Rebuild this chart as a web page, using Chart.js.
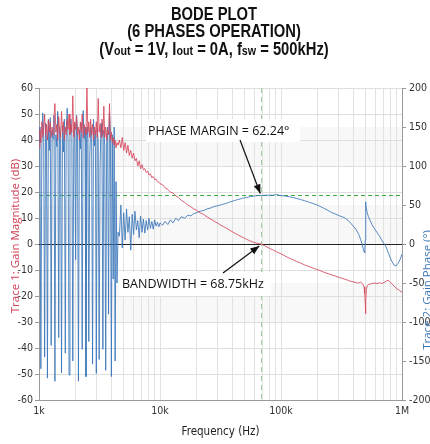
<!DOCTYPE html>
<html><head><meta charset="utf-8">
<script src="https://cdn.jsdelivr.net/npm/chart.js@4.4.1/dist/chart.umd.min.js"></script>
<style>html,body{margin:0;padding:0;background:#fff}#wrap{width:430px;height:444px}</style>
</head><body><div id="wrap"><canvas id="c" width="430" height="444"></canvas></div>
<script>
// ---- DATA ----
const freqA = [1000,1018,1036,1055,1074,1093,1113,1133,1153,1174,
  1195,1217,1239,1261,1284,1307,1330,1354,1379,1404,
  1429,1455,1481,1508,1535,1563,1591,1620,1649,1679,
  1709,1740,1771,1803,1836,1869,1903,1937,1972,2008,
  2044,2081,2118,2157,2196,2235,2276,2317,2359,2401,
  2445,2489,2534,2580,2626,2673,2722,2771,2821,2872,
  2924,2976,3030,3085,3140,3197,3255,3314,3373,3434,
  3496,3559,3624,3689,3756,3823,3892,3963,4034,4107,
  4181,4257,4333,4412,4500];
const gainA = [37,44,39,47,41,45,50,42,46,40,
  48,43,47,41,45,42,49,54,43,46,
  40,49,44,41,51,43,47,40,45,42,
  48,44,50,42,46,43,57,41,47,44,
  49,42,45,40,47,43,50,41,46,44,
  42,60,43,47,41,48,42,46,40,45,
  42,47,41,56,43,46,41,48,42,53,
  41,45,40,44,42,54,40,43,39,41,
  38,40,37,39,38];
const phaseA = [150,130,-160,125,168,140,-145,155,135,-172,
  158,120,162,-130,145,135,165,-176,140,125,
  170,-120,150,135,-165,152,118,160,-140,145,
  174,130,-168,142,160,138,-150,128,155,-20,
  165,140,-176,146,122,155,-135,171,135,150,
  -170,135,150,-125,112,150,141,-154,160,126,
  145,-166,148,130,-148,100,155,138,-135,146,
  125,-162,130,150,-90,168,140,-170,140,-45,
  150,-150,80,-50,15];
const freqB = [4620,4750,4880,5010,5150,5290,5430,5580,5730,5890,
  6050,6210,6380,6550,6730,6910,7100,7290,7490,7690,
  7900,8110,8330,8560,8790,9030,9270,9520,9780,10000];
const gainB = [40,37,41,36,39,35,38,34,36,33,
  35,32,33,30,32,29,30.5,28.5,29,27.5,
  28,26.5,27,25.5,26,24.8,25,24,23.8,23.2];
const phaseB = [10,50,-5,40,5,45,15,35,-8,38,
  12,42,18,30,8,36,15,32,14,30,
  18,33,20,29,19,31,23,28,22,27];
const freqC = [10500,11000,11600,12200,12800,13500,14200,15000,16000,17000,
  18000,19000,20000,21500,23000,24500,26000,28000,30000,32500,
  35000,38000,41000,44000,48000,52000,56000,60000,64000,68750,
  74000,80000,86000,92000,98000,104000,110000,118000,126000,135000,
  145000,156000,168000,180000,195000,210000,225000,240000,260000,280000,
  300000,320000,340000,360000,380000,400000,420000,440000,455000,468000,
  478000,486000,492000,497000,500000,503000,508000,516000,528000,545000,
  565000,590000,620000,650000,680000,710000,740000,770000,800000,830000,
  860000,890000,920000,950000,975000,1000000];
const gainC = [22.8,21.6,21.0,19.9,19.6,18.5,17.9,16.8,16.0,15.0,
  14.3,13.5,13.0,12.0,11.3,10.4,9.7,8.8,8.0,7.0,
  6.2,5.2,4.3,3.5,2.6,1.8,1.1,0.6,0.2,0.0,
  -0.8,-1.6,-2.3,-3.0,-3.6,-4.2,-4.8,-5.5,-6.1,-6.7,
  -7.3,-8.0,-8.6,-9.1,-9.7,-10.2,-10.8,-11.3,-11.8,-12.3,
  -12.8,-13.2,-13.6,-14.0,-14.4,-14.6,-14.9,-15.0,-14.6,-15.3,
  -15.6,-16.5,-19.0,-23.0,-26.8,-22.0,-17.5,-16.0,-15.6,-15.4,
  -15.2,-15.0,-15.3,-14.9,-15.2,-14.8,-14.3,-13.9,-14.8,-15.4,
  -16.2,-16.9,-17.4,-17.8,-18.2,-18.5];
const phaseC = [24,29,25,31,27,33,30,35,33,37,
  36,39,40,42,43,45,46,48,49,50.5,
  52,54,55.5,57,58.5,59.8,60.8,61.5,62.0,62.24,
  62.4,62.6,62.5,63.5,62.2,61.8,61.3,60.5,59.6,58.3,
  57,55.6,54,52.4,50.5,48.2,46,43.8,40.6,38.5,
  36.5,35,33,30,26,22,18,12,6,0,
  -6,-10,-11,5,54,50,45,40,35,30,
  25,20,15,10.5,5,0.5,-4,-11,-18,-23,
  -27,-28,-26,-22,-18,-13];

const xGridValues = [1000,2000,3000,4000,5000,6000,7000,8000,9000,
  10000,20000,30000,40000,50000,60000,70000,80000,90000,
  100000,200000,300000,400000,500000,600000,700000,800000,900000,1000000];
const xLabelValues = [1000,10000,100000,1000000];
const xLabelTexts = ['1k','10k','100k','1M'];
const bandRanges = [[100,150],[0,50],[-100,-50]];
const crossoverHz = 68750;
const phaseMarginDeg = 62.24;
const titleLine1 = 'BODE PLOT';
const titleLine2 = '(6 PHASES OPERATION)';
const titleLine3 = [['(V',0],['out',1],[' = 1V, I',0],['out',1],[' = 0A, f',0],['sw',1],[' = 500kHz)',0]];
const pmLabel = 'PHASE MARGIN = 62.24°';
const bwLabel = 'BANDWIDTH = 68.75kHz';
const yLeftTitle = 'Trace 1: Gain Magnitude (dB)';
const yRightTitle = 'Trace 2: Gain Phase (°)';
const xTitle = 'Frequency (Hz)';

// ---- BUILD ----
const freq = freqA.concat(freqB, freqC);
const gain = gainA.concat(gainB, gainC);
const phase = phaseA.concat(phaseB, phaseC);

const NARROW = '"DejaVu Sans Condensed", "Liberation Sans", sans-serif';
const RED = 'rgba(214,70,90,0.85)';
const BLUE = 'rgba(58,118,186,0.85)';

function arrow(ctx, x1, y1, x2, y2) {
  ctx.save();
  ctx.strokeStyle = '#111'; ctx.fillStyle = '#111'; ctx.lineWidth = 1.2;
  ctx.beginPath(); ctx.moveTo(x1, y1); ctx.lineTo(x2, y2); ctx.stroke();
  const a = Math.atan2(y2 - y1, x2 - x1), L = 9, W = 3.5;
  ctx.beginPath();
  ctx.moveTo(x2, y2);
  ctx.lineTo(x2 - L * Math.cos(a) + W * Math.sin(a), y2 - L * Math.sin(a) - W * Math.cos(a));
  ctx.lineTo(x2 - L * Math.cos(a) - W * Math.sin(a), y2 - L * Math.sin(a) + W * Math.cos(a));
  ctx.closePath(); ctx.fill();
  ctx.restore();
}

const deco = {
  id: 'deco',
  beforeDraw(chart) {
    const { ctx, chartArea: a, scales } = chart;
    ctx.save();
    ctx.fillStyle = '#f8f8f8';
    bandRanges.forEach(([lo, hi]) => {
      const t = scales.y1.getPixelForValue(hi), b = scales.y1.getPixelForValue(lo);
      ctx.fillRect(a.left, t, a.right - a.left, b - t);
    });
    ctx.restore();
  },
  beforeDatasetsDraw(chart) {
    const { ctx, chartArea: a, scales } = chart;
    ctx.save();
    const y0 = Math.round(scales.y.getPixelForValue(0)) + 0.5;
    ctx.strokeStyle = '#222'; ctx.lineWidth = 1;
    ctx.beginPath(); ctx.moveTo(a.left, y0); ctx.lineTo(a.right, y0); ctx.stroke();
    const yp = Math.round(scales.y1.getPixelForValue(phaseMarginDeg)) + 0.5;
    ctx.strokeStyle = '#3fae3f'; ctx.setLineDash([4, 3]);
    ctx.beginPath(); ctx.moveTo(a.left, yp); ctx.lineTo(a.right, yp); ctx.stroke();
    const xc = Math.round(scales.x.getPixelForValue(crossoverHz)) + 0.5;
    ctx.strokeStyle = '#9fcf9f'; ctx.setLineDash([5, 4]);
    ctx.beginPath(); ctx.moveTo(xc, a.top); ctx.lineTo(xc, a.bottom); ctx.stroke();
    ctx.restore();
  },
  afterDatasetsDraw(chart) {
    const { ctx, scales } = chart;
    const xc = scales.x.getPixelForValue(crossoverHz);
    const yp = scales.y1.getPixelForValue(phaseMarginDeg);
    const y0 = scales.y.getPixelForValue(0);
    ctx.save();
    ctx.font = '12.5px "Open Sans", sans-serif';
    ctx.textBaseline = 'middle'; ctx.textAlign = 'left';
    ctx.fillStyle = '#fff';
    ctx.fillRect(146, 119, 154, 23);
    ctx.fillStyle = '#111';
    ctx.fillText(pmLabel, 148, 131);
    ctx.fillStyle = '#fff';
    ctx.fillRect(119, 272, 152, 24);
    ctx.fillStyle = '#111';
    ctx.fillText(bwLabel, 122, 284);
    ctx.restore();
    arrow(ctx, 240, 140, xc - 1, yp - 2);
    arrow(ctx, 223, 273, xc - 2, y0 + 2);
  },
  afterDraw(chart) {
    const { ctx, chartArea: a } = chart;
    ctx.save();
    ctx.fillStyle = '#111';
    ctx.textBaseline = 'alphabetic';
    const cx = 214;
    const big = 'bold 18px "Liberation Sans", Arial, sans-serif';
    const small = 'bold 13px "Liberation Sans", Arial, sans-serif';
    ctx.save();
    ctx.translate(cx, 0); ctx.scale(0.82, 1);
    ctx.textAlign = 'center';
    ctx.font = big;
    ctx.fillText(titleLine1, 0, 20);
    ctx.fillText(titleLine2, 0, 37);
    ctx.textAlign = 'left';
    let w = 0;
    titleLine3.forEach(([t, s]) => { ctx.font = s ? small : big; w += ctx.measureText(t).width; });
    let x = -w / 2;
    titleLine3.forEach(([t, s]) => { ctx.font = s ? small : big; ctx.fillText(t, x, 55); x += ctx.measureText(t).width; });
    ctx.restore();
    ctx.font = '11.5px "Open Sans", sans-serif';
    ctx.textAlign = 'center'; ctx.textBaseline = 'middle';
    ctx.save(); ctx.translate(16, 236); ctx.rotate(-Math.PI / 2);
    ctx.fillStyle = '#cf3f52'; ctx.fillText(yLeftTitle, 0, 0); ctx.restore();
    ctx.save(); ctx.translate(428, 290); ctx.rotate(-Math.PI / 2);
    ctx.fillStyle = '#3a74b4'; ctx.fillText(yRightTitle, 0, 0); ctx.restore();
    ctx.font = '11.5px ' + NARROW;
    ctx.fillStyle = '#222';
    ctx.fillText(xTitle, (a.left + a.right) / 2, 432);
    ctx.restore();
  }
};

new Chart(document.getElementById('c'), {
  type: 'line',
  data: {
    datasets: [
      { label: 'Gain', data: freq.map((f, i) => ({ x: f, y: gain[i] })), yAxisID: 'y',
        borderColor: RED, borderWidth: 1, pointRadius: 0, tension: 0, order: 1 },
      { label: 'Phase', data: freq.map((f, i) => ({ x: f, y: phase[i] })), yAxisID: 'y1',
        borderColor: BLUE, borderWidth: 1, pointRadius: 0, tension: 0, order: 2 }
    ]
  },
  options: {
    responsive: false, animation: false, devicePixelRatio: 1,
    layout: { padding: { top: 88, left: 0, right: 0, bottom: 0 } },
    plugins: { legend: { display: false }, tooltip: { enabled: false }, title: { display: false } },
    scales: {
      x: {
        type: 'logarithmic', min: 1000, max: 1000000,
        afterBuildTicks: s => { s.ticks = xGridValues.map(v => ({ value: v })); },
        afterFit: s => { s.height = 44; },
        ticks: { autoSkip: false, maxRotation: 0, minRotation: 0, padding: 5, color: '#333',
          font: { family: NARROW, size: 10.5 },
          callback: v => { const i = xLabelValues.indexOf(v); return i >= 0 ? xLabelTexts[i] : ''; } },
        grid: { color: '#e2e2e2', drawTicks: false },
        border: { color: '#9a9a9a' }
      },
      y: {
        position: 'left', min: -60, max: 60,
        ticks: { stepSize: 10, padding: 2, color: '#333', font: { family: NARROW, size: 10.5 } },
        afterFit: s => { s.width = 39; },
        grid: { color: '#dedede', tickLength: 4, tickColor: '#9a9a9a' },
        border: { color: '#9a9a9a' }
      },
      y1: {
        position: 'right', min: -200, max: 200,
        ticks: { stepSize: 50, padding: 3, color: '#333', font: { family: NARROW, size: 10.5 } },
        afterFit: s => { s.width = 28; },
        grid: { drawOnChartArea: false, tickLength: 4, tickColor: '#9a9a9a' },
        border: { color: '#9a9a9a' }
      }
    }
  },
  plugins: [deco]
});
</script></body></html>
